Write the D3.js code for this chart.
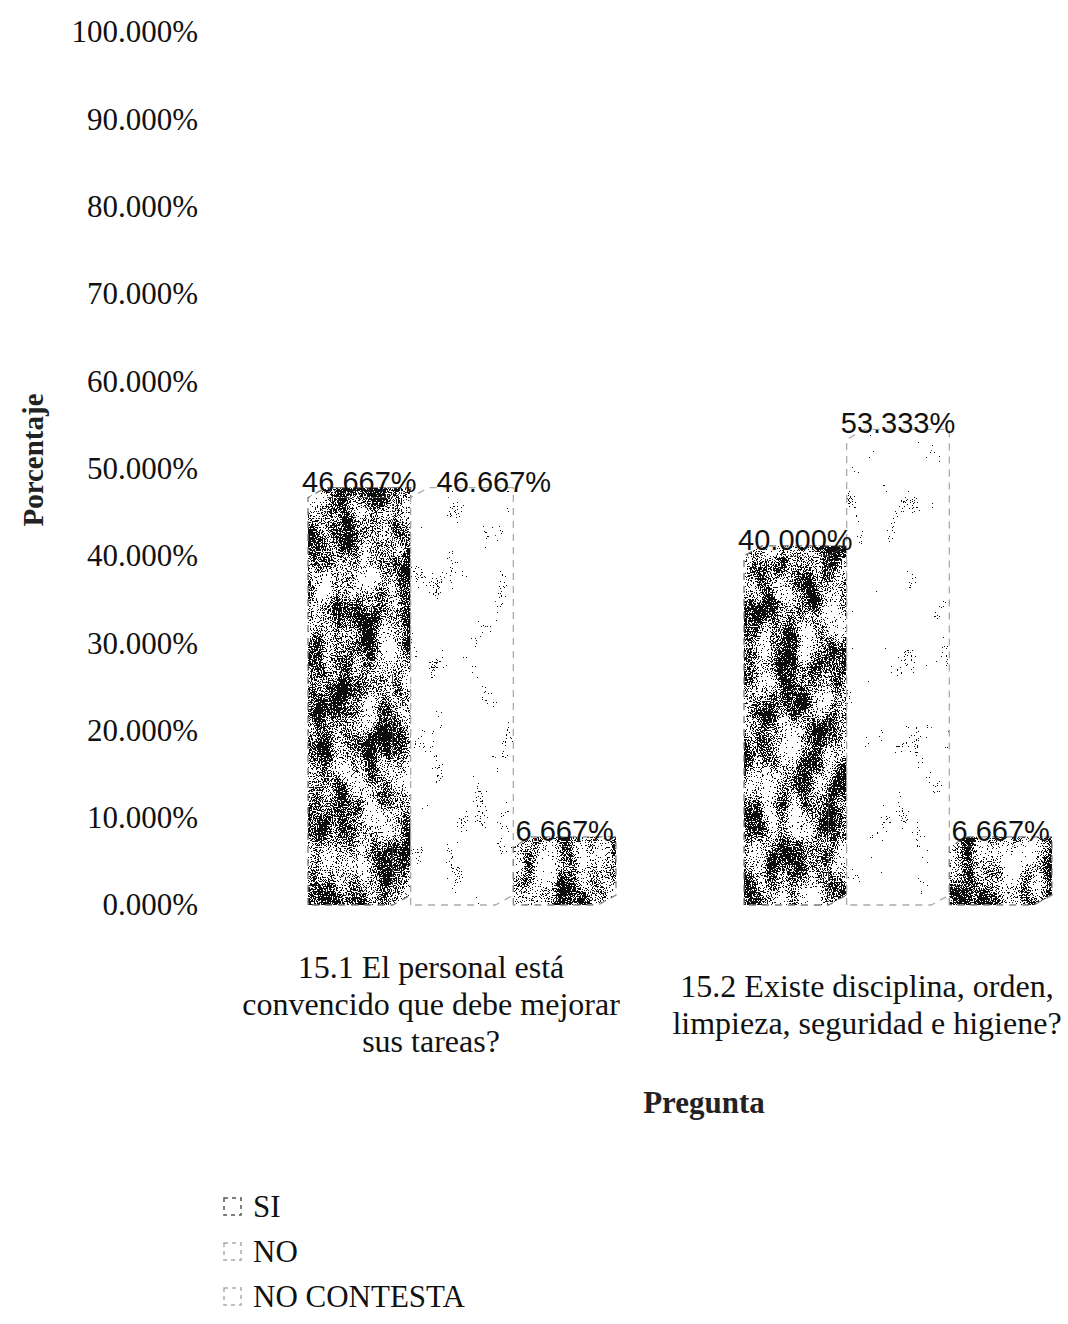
<!DOCTYPE html>
<html>
<head>
<meta charset="utf-8">
<script src="https://cdn.jsdelivr.net/npm/d3@7"></script>
<style>
  html, body { margin: 0; padding: 0; background: #fff; }
  svg { display: block; }
</style>
</head>
<body>
<svg id="chart" width="1068" height="1324"></svg>
<script>
// ---- data ----
const categories = [
  "15.1 El personal está convencido que debe mejorar sus tareas?",
  "15.2 Existe disciplina, orden, limpieza, seguridad e higiene?"
];
const categoryLines = [
  ["15.1 El personal está", "convencido que debe mejorar", "sus tareas?"],
  ["15.2 Existe disciplina, orden,", "limpieza, seguridad e higiene?"]
];
const series = ["SI", "NO", "NO CONTESTA"];
const siValues = [0.46667, 0.40000];
const noValues = [0.46667, 0.53333];
const noContestaValues = [0.06667, 0.06667];
const yTicks = [0, 0.1, 0.2, 0.3, 0.4, 0.5, 0.6, 0.7, 0.8, 0.9, 1.0];
const yTitle = "Porcentaje";
const xTitle = "Pregunta";

const seriesValues = { "SI": siValues, "NO": noValues, "NO CONTESTA": noContestaValues };

// ---- layout ----
const W = 1068, H = 1324;
const svg = d3.select("#chart");
const serif = "'Liberation Serif', 'Times New Roman', serif";
const sans = "'Liberation Sans', Arial, sans-serif";
const fmt = d3.format(".3%");

const y = d3.scaleLinear().domain([0, 1]).range([905, 32]);
const x0 = d3.scaleBand().domain(categories).range([213, 1085]);
const x1 = d3.scaleBand().domain(series).range([-123, 185]);
const depthX = 18, depthY = 10; // oblique depth of each block

// ---- grain textures for the bar faces ----
const defs = svg.append("defs");
function grain(id, threshold, seed) {
  const f = defs.append("filter").attr("id", id)
    .attr("filterUnits", "userSpaceOnUse")
    .attr("x", 0).attr("y", 0).attr("width", W).attr("height", H)
    .attr("color-interpolation-filters", "sRGB");
  f.append("feTurbulence").attr("type", "fractalNoise").attr("baseFrequency", 0.8)
    .attr("numOctaves", 2).attr("seed", seed).attr("result", "hi");
  f.append("feTurbulence").attr("type", "fractalNoise").attr("baseFrequency", "0.045 0.025")
    .attr("numOctaves", 2).attr("seed", seed + 7).attr("result", "lo");
  const toAlpha = "0 0 0 0 0  0 0 0 0 0  0 0 0 0 0  1 0 0 0 0";
  f.append("feColorMatrix").attr("in", "hi").attr("type", "matrix").attr("values", toAlpha).attr("result", "hiA");
  f.append("feColorMatrix").attr("in", "lo").attr("type", "matrix").attr("values", toAlpha).attr("result", "loA");
  f.append("feComposite").attr("in", "hiA").attr("in2", "loA").attr("operator", "arithmetic")
    .attr("k1", 0).attr("k2", 1).attr("k3", 0.8).attr("k4", -0.4).attr("result", "mix");
  const N = 50, cut = Math.round(threshold * N);
  const table = d3.range(N).map(k => (k >= cut ? 0.95 : 0)).join(" ");
  f.append("feComponentTransfer").attr("in", "mix").attr("result", "spk")
    .append("feFuncA").attr("type", "discrete").attr("tableValues", table);
  f.append("feFlood").attr("flood-color", "#fff").attr("result", "white");
  f.append("feComposite").attr("in", "white").attr("in2", "SourceAlpha").attr("operator", "in").attr("result", "bg");
  f.append("feComposite").attr("in", "spk").attr("in2", "SourceAlpha").attr("operator", "in").attr("result", "dots");
  const m = f.append("feMerge");
  m.append("feMergeNode").attr("in", "bg");
  m.append("feMergeNode").attr("in", "dots");
}
grain("grainSI", 0.52, 3);
grain("grainNO", 0.86, 11);
grain("grainNC", 0.57, 21);
const seriesFilter = { "SI": "url(#grainSI)", "NO": "url(#grainNO)", "NO CONTESTA": "url(#grainNC)" };
const seriesStroke = { "SI": "#777", "NO": "#aaa", "NO CONTESTA": "#888" };

// ---- y axis (labels only) ----
const yAxis = d3.axisLeft(y).tickValues(yTicks).tickSize(0).tickPadding(0).tickFormat(fmt);
const gy = svg.append("g").attr("transform", "translate(198,0)").call(yAxis);
gy.select(".domain").remove();
gy.selectAll("text")
  .attr("font-family", serif).attr("font-size", 31).attr("fill", "#111")
  .attr("dy", "0.32em");

svg.append("text")
  .attr("transform", "translate(43,460) rotate(-90)")
  .attr("text-anchor", "middle")
  .attr("font-family", serif).attr("font-weight", "bold").attr("font-size", 29)
  .attr("fill", "#222")
  .text(yTitle);

// ---- 3D bars ----
const bars = [];
categories.forEach((c, ci) => {
  series.forEach(s => {
    const v = seriesValues[s][ci];
    const cx = x0(c) + x0.bandwidth() / 2;
    const xl = cx + x1(s);
    const xr = xl + x1.bandwidth() - depthX;
    bars.push({ c, ci, s, v, xl, xr, yt: y(v), yb: y(0) });
  });
});

const gBars = svg.append("g");
bars.forEach(b => {
  const g = gBars.append("g");
  const front = [[b.xl, b.yt], [b.xr, b.yt], [b.xr, b.yb], [b.xl, b.yb]];
  const side = [[b.xr, b.yt], [b.xr + depthX, b.yt - depthY], [b.xr + depthX, b.yb - depthY], [b.xr, b.yb]];
  const top = [[b.xl, b.yt], [b.xl + depthX, b.yt - depthY], [b.xr + depthX, b.yt - depthY], [b.xr, b.yt]];
  const faces = g.append("g").attr("filter", seriesFilter[b.s]);
  [front, side, top].forEach(p => faces.append("polygon").attr("points", p.join(" ")).attr("fill", "#fff"));
  const edge = g.append("g").attr("fill", "none").attr("stroke", seriesStroke[b.s])
    .attr("stroke-width", 1.3).attr("stroke-dasharray", "7 6");
  edge.append("polyline").attr("points", [[b.xl, b.yb], [b.xl, b.yt], [b.xl + depthX, b.yt - depthY],
    [b.xr + depthX, b.yt - depthY], [b.xr + depthX, b.yb - depthY], [b.xr, b.yb], [b.xl, b.yb]].join(" "));
});

// ---- value labels (nudged right when two labels collide) ----
const gLab = svg.append("g");
categories.forEach((c, ci) => {
  let prev = null;
  bars.filter(b => b.ci === ci).forEach(b => {
    const ty = b.yt - 6;
    const t = gLab.append("text")
      .attr("font-family", sans).attr("font-size", 29).attr("fill", "#111")
      .attr("text-anchor", "middle")
      .attr("y", ty)
      .text(fmt(b.v));
    const w = t.node().getComputedTextLength();
    let cx = (b.xl + b.xr + depthX) / 2;
    if (prev && Math.abs(prev.y - ty) < 30 && cx - w / 2 < prev.right + 20) {
      cx = prev.right + 20 + w / 2;
    }
    t.attr("x", cx);
    prev = { y: ty, right: cx + w / 2 };
  });
});

// ---- category labels ----
const lineH = 37;
categories.forEach((c, ci) => {
  const lines = categoryLines[ci];
  const cx = x0(c) + x0.bandwidth() / 2;
  const mid = 1015;
  const t = svg.append("text")
    .attr("font-family", serif).attr("font-size", 32).attr("fill", "#111")
    .attr("text-anchor", "middle");
  lines.forEach((ln, i) => {
    t.append("tspan").attr("x", cx)
      .attr("y", mid + (i - (lines.length - 1) / 2) * lineH)
      .text(ln);
  });
});

svg.append("text")
  .attr("x", 704).attr("y", 1113)
  .attr("text-anchor", "middle")
  .attr("font-family", serif).attr("font-weight", "bold").attr("font-size", 31)
  .attr("fill", "#222")
  .text(xTitle);

// ---- legend ----
const legend = svg.append("g").attr("transform", "translate(224,1217)");
series.forEach((s, i) => {
  const r = legend.append("g").attr("transform", `translate(0,${i * 45})`);
  r.append("rect").attr("x", 0).attr("y", -19).attr("width", 17).attr("height", 17)
    .attr("fill", "#fff").attr("stroke", i === 0 ? "#555" : "#aaa").attr("stroke-width", 1.5)
    .attr("stroke-dasharray", "4 4");
  r.append("text").attr("x", 29).attr("y", 0)
    .attr("font-family", serif).attr("font-size", 31).attr("fill", "#111")
    .text(s);
});
</script>
</body>
</html>
